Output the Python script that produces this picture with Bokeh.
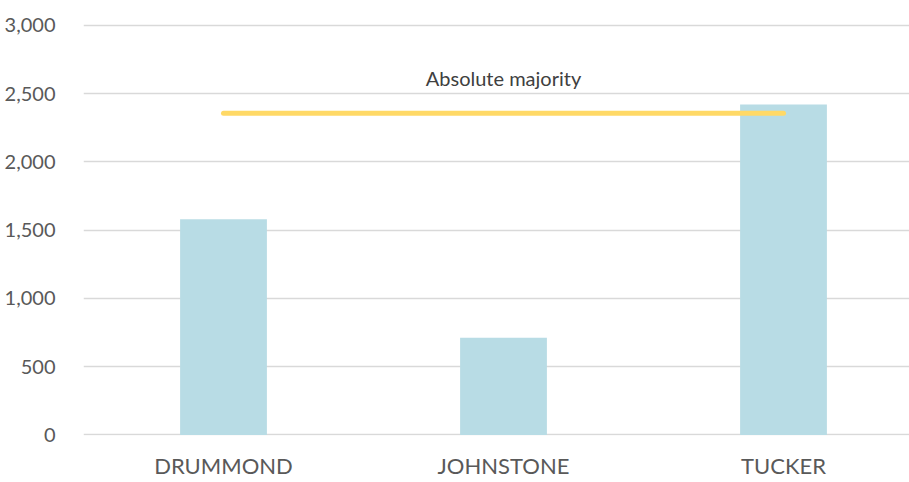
from bokeh.plotting import figure
from bokeh.models import Range1d, FixedTicker, SingleIntervalTicker, NumeralTickFormatter, ColumnDataSource
from bokeh.core.properties import value
from bokeh.embed import file_html
from bokeh.resources import INLINE
import numpy as np

categories = ["DRUMMOND", "JOHNSTONE", "TUCKER"]
votes = [1580, 712, 2420]
majority = 2356
majority_label = "Absolute majority"

FONT = "Lato"
xs = (np.arange(len(categories)) + 0.5).tolist()

p = figure(width=909, height=482, output_backend="svg", toolbar_location=None,
           x_range=Range1d(0, 2.95), y_range=Range1d(-4, 3036),
           min_border_left=83, min_border_right=0, min_border_top=20, min_border_bottom=47)
p.outline_line_color = None
p.background_fill_color = "white"
p.border_fill_color = "white"

src = ColumnDataSource(dict(x=xs, top=votes, cat=categories))
p.vbar(x="x", top="top", bottom=0, width=0.31, source=src,
       fill_color="#B8DCE5", line_color=None)

p.line(x=[xs[0], xs[-1]], y=[majority, majority], line_color="#FFD966",
       line_width=5, line_cap="round")
p.text(x=[xs[1]], y=[2612], text=[majority_label], text_font=value(FONT),
       text_font_size="20px", text_color="#404040", text_align="center",
       text_baseline="middle")

# axes
p.xaxis.ticker = FixedTicker(ticks=xs)
p.xaxis.major_label_overrides = {x: c for x, c in zip(xs, categories)}
p.xaxis.axis_line_color = None
p.xaxis.major_tick_line_color = None
p.xaxis.minor_tick_line_color = None
p.xaxis.major_label_standoff = 10
p.xaxis.major_label_text_font = FONT
p.xaxis.major_label_text_font_size = "22px"
p.xaxis.major_label_text_color = "#595959"

p.yaxis.ticker = SingleIntervalTicker(interval=500)
p.yaxis.formatter = NumeralTickFormatter(format="0,0")
p.yaxis.axis_line_color = None
p.yaxis.major_tick_line_color = None
p.yaxis.minor_tick_line_color = None
p.yaxis.major_label_standoff = 22
p.yaxis.major_label_text_font = FONT
p.yaxis.major_label_text_font_size = "20px"
p.yaxis.major_label_text_color = "#595959"

p.xgrid.grid_line_color = None
p.ygrid.ticker = SingleIntervalTicker(interval=500)
p.ygrid.grid_line_color = "#D9D9D9"
p.ygrid.grid_line_width = 1.5

open("out.html", "w").write(file_html(p, INLINE))
